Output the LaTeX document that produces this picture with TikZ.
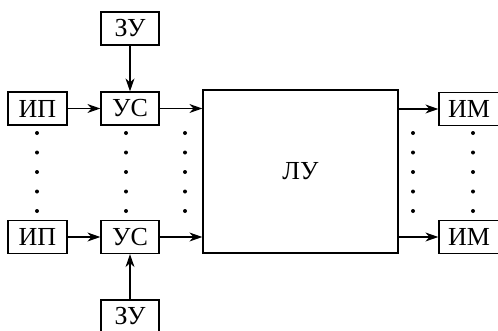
\documentclass[tikz,border=0pt]{standalone}
\usepackage{fontspec}
\setmainfont{Liberation Serif}
\usepackage{tikz}
\usetikzlibrary{arrows.meta,positioning,calc}

\begin{document}
\begin{tikzpicture}[
  x=1pt, y=-1pt,
  blk/.style={rectangle, draw, line width=1.3pt, inner sep=0pt,
              minimum width=58pt, minimum height=33pt, font=\fontsize{26}{26}\selectfont},
  big/.style={rectangle, draw, line width=1.3pt, minimum width=195pt,
              minimum height=163pt, font=\fontsize{26}{26}\selectfont},
  arr/.style={-{Stealth[length=13pt,width=9pt]}, line width=1.2pt},
  dot/.style={circle, fill, inner sep=0pt, minimum size=4pt},
]
\clip (0,0) rectangle (498,330);
\fill[white] (0,0) rectangle (498,330);
% upper row
\node[blk] (zu1) at (130,28.5) {ЗУ};
\node[blk, minimum width=59pt] (ip1) at (37.5,108.5) {ИП};
\node[blk] (us1) at (130,108.5) {УС};
\node[big] (lu) at (300.5,171.5) {ЛУ};
\node[blk, minimum width=60pt] (im1) at (469,109) {ИМ};
% lower row
\node[blk, minimum width=59pt] (ip2) at (37.5,237) {ИП};
\node[blk] (us2) at (130,237) {УС};
\node[blk, minimum width=60pt] (im2) at (469,237) {ИМ};
\node[blk] (zu2) at (130,316.5) {ЗУ};
% connectors
\draw[arr] (zu1) -- (us1);
\draw[arr] (ip1) -- (us1);
\draw[arr] (us1.east) -- (us1.east -| lu.west);
\draw[arr] (lu.east |- im1.west) -- (im1.west);
\draw[arr] (zu2) -- (us2);
\draw[arr] (ip2) -- (us2);
\draw[arr] (us2.east) -- (us2.east -| lu.west);
\draw[arr] (lu.east |- im2.west) -- (im2.west);
% dots
\foreach \x in {37,126,185,413,473}
  \foreach \y in {133,152.5,172,191.5,211}
    \node[dot] at (\x,\y) {};
\end{tikzpicture}
\end{document}
